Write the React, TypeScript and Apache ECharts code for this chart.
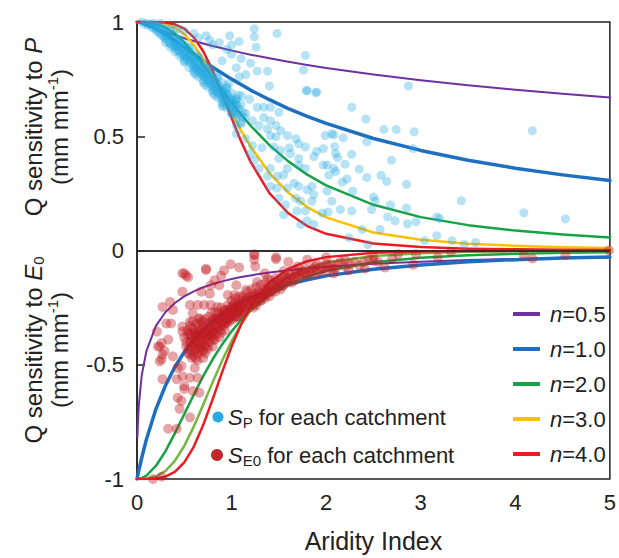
import React, { useEffect, useRef } from "react";
import * as echarts from "echarts";

const FONT = "'Liberation Sans', Arial, sans-serif";

const aridityGrid = [0, 0.005, 0.01, 0.02, 0.05, 0.1, 0.2, 0.3, 0.4, 0.5, 0.6, 0.7, 0.8, 0.9, 1.0, 1.1, 1.2, 1.4, 1.6, 1.8, 2.0, 2.5, 3.0, 3.5, 4.0, 4.5, 5.0];

const spN05 = [1, 1.0, 0.999, 0.998, 0.994, 0.986, 0.971, 0.956, 0.942, 0.929, 0.917, 0.906, 0.895, 0.885, 0.875, 0.866, 0.857, 0.841, 0.826, 0.812, 0.799, 0.77, 0.745, 0.723, 0.704, 0.686, 0.67];
const spN10 = [1, 1.0, 1.0, 1.0, 0.998, 0.992, 0.972, 0.947, 0.918, 0.889, 0.859, 0.83, 0.802, 0.776, 0.75, 0.726, 0.702, 0.66, 0.621, 0.587, 0.556, 0.49, 0.438, 0.395, 0.36, 0.331, 0.306];
const spN20 = [1, 1, 1, 1, 1.0, 0.999, 0.993, 0.976, 0.949, 0.911, 0.864, 0.811, 0.756, 0.701, 0.646, 0.595, 0.547, 0.461, 0.39, 0.332, 0.285, 0.2, 0.146, 0.111, 0.087, 0.07, 0.057];
const spN30 = [1, 1, 1, 1, 1, 1.0, 0.998, 0.992, 0.976, 0.947, 0.9, 0.838, 0.764, 0.684, 0.603, 0.526, 0.456, 0.339, 0.253, 0.19, 0.145, 0.079, 0.047, 0.03, 0.021, 0.014, 0.011];
const spN40 = [1, 1, 1, 1, 1, 1, 1.0, 0.998, 0.99, 0.971, 0.933, 0.872, 0.787, 0.686, 0.58, 0.478, 0.389, 0.251, 0.163, 0.107, 0.073, 0.031, 0.015, 0.008, 0.005, 0.003, 0.002];

const seN05 = [null, -0.815, -0.751, -0.673, -0.546, -0.439, -0.33, -0.27, -0.23, -0.201, -0.179, -0.161, -0.147, -0.135, -0.125, -0.116, -0.109, -0.096, -0.086, -0.078, -0.071, -0.058, -0.049, -0.042, -0.037, -0.033, -0.03];
const seN10 = [-1, -0.99, -0.98, -0.961, -0.907, -0.826, -0.694, -0.592, -0.51, -0.444, -0.391, -0.346, -0.309, -0.277, -0.25, -0.227, -0.207, -0.174, -0.148, -0.128, -0.111, -0.082, -0.063, -0.049, -0.04, -0.033, -0.028];
const seN20 = [-1, -1, -1, -0.999, -0.996, -0.985, -0.943, -0.879, -0.8, -0.716, -0.631, -0.55, -0.476, -0.411, -0.354, -0.304, -0.262, -0.196, -0.149, -0.115, -0.089, -0.051, -0.032, -0.021, -0.014, -0.01, -0.008];
const seN30 = [-1, -1, -1, -1, -1, -0.999, -0.989, -0.965, -0.921, -0.855, -0.771, -0.675, -0.576, -0.482, -0.397, -0.324, -0.262, -0.172, -0.114, -0.077, -0.053, -0.024, -0.012, -0.006, -0.004, -0.002, -0.002];
const seN40 = [-1, -1, -1, -1, -1, -1, -0.998, -0.99, -0.969, -0.927, -0.859, -0.764, -0.651, -0.532, -0.42, -0.324, -0.246, -0.139, -0.08, -0.047, -0.029, -0.01, -0.004, -0.002, -0.001, -0.001, 0];

const nLabels = ["0.5", "1.0", "2.0", "3.0", "4.0"];
const yTicks = [-1, -0.5, 0, 0.5, 1];

// S_P for each catchment [aridity index, sensitivity] — dense band
const spBand = [
  [0.1, 0.995], [0.12, 0.985], [0.14, 0.99], [0.16, 0.975], [0.18, 0.995], [0.19, 0.97], [0.2, 0.985], [0.21, 0.96],
  [0.22, 0.98], [0.23, 0.955], [0.24, 0.975], [0.25, 0.945], [0.26, 0.965], [0.27, 0.94], [0.28, 0.96], [0.29, 0.93],
  [0.3, 0.955], [0.31, 0.925], [0.32, 0.95], [0.33, 0.915], [0.34, 0.94], [0.35, 0.905], [0.36, 0.935], [0.37, 0.9],
  [0.38, 0.925], [0.39, 0.895], [0.4, 0.92], [0.41, 0.885], [0.42, 0.91], [0.43, 0.875], [0.44, 0.905], [0.45, 0.87],
  [0.46, 0.895], [0.47, 0.86], [0.48, 0.89], [0.49, 0.855], [0.5, 0.88], [0.51, 0.845], [0.52, 0.87], [0.53, 0.835],
  [0.54, 0.865], [0.55, 0.83], [0.56, 0.855], [0.57, 0.82], [0.58, 0.85], [0.59, 0.81], [0.6, 0.84], [0.61, 0.8],
  [0.62, 0.83], [0.63, 0.795], [0.64, 0.825], [0.65, 0.785], [0.66, 0.815], [0.67, 0.775], [0.68, 0.805], [0.69, 0.77],
  [0.7, 0.8], [0.71, 0.76], [0.72, 0.79], [0.73, 0.75], [0.74, 0.785], [0.75, 0.74], [0.76, 0.77], [0.77, 0.73],
  [0.78, 0.765], [0.79, 0.72], [0.8, 0.755], [0.81, 0.71], [0.82, 0.745], [0.83, 0.7], [0.84, 0.735], [0.85, 0.69],
  [0.86, 0.725], [0.87, 0.685], [0.88, 0.715], [0.89, 0.675], [0.9, 0.705], [0.91, 0.665], [0.92, 0.695], [0.93, 0.655],
  [0.94, 0.69], [0.95, 0.645], [0.96, 0.68], [0.97, 0.64], [0.98, 0.67], [0.99, 0.63], [1.0, 0.66], [1.01, 0.62],
  [1.02, 0.655], [1.03, 0.61], [1.04, 0.645], [1.05, 0.6], [1.06, 0.635], [1.07, 0.595], [1.08, 0.62], [1.1, 0.59],
  [1.12, 0.605], [1.14, 0.58], [1.15, 0.6], [0.2, 0.975], [0.3, 0.94], [0.4, 0.905], [0.45, 0.885], [0.5, 0.865],
  [0.55, 0.845], [0.6, 0.825], [0.65, 0.8], [0.7, 0.78], [0.75, 0.757], [0.8, 0.735], [0.85, 0.71], [0.9, 0.69],
  [0.95, 0.665], [1.0, 0.64], [1.05, 0.62], [0.42, 0.895], [0.52, 0.855], [0.62, 0.81], [0.72, 0.77], [0.82, 0.725],
  [0.92, 0.68], [1.02, 0.635], [0.58, 0.835], [0.68, 0.79], [0.78, 0.745], [0.88, 0.7], [0.98, 0.655], [0.6, 0.79],
  [0.7, 0.745], [0.8, 0.7], [0.9, 0.655], [0.5, 0.83], [0.65, 0.85], [0.75, 0.8], [0.85, 0.755], [0.95, 0.71],
  [1.05, 0.66], [0.55, 0.89], [0.45, 0.92], [1.1, 0.56], [1.0, 0.6], [0.9, 0.63], [0.97, 0.73], [1.07, 0.68],
  [0.3, 0.97], [0.4, 0.945], [0.5, 0.905], [0.6, 0.865], [0.7, 0.825], [0.8, 0.78], [0.9, 0.735], [1.0, 0.69],
  [1.1, 0.64], [0.35, 0.96], [0.45, 0.925], [0.55, 0.885], [0.65, 0.845], [0.75, 0.8], [0.85, 0.76], [0.95, 0.715],
  [1.05, 0.665], [0.3, 0.91], [0.4, 0.87], [0.5, 0.825], [0.6, 0.78], [0.7, 0.735], [0.8, 0.69], [0.9, 0.645],
  [1.0, 0.6], [1.1, 0.555], [0.35, 0.89], [0.45, 0.85], [0.55, 0.8], [0.65, 0.76], [0.75, 0.715], [0.85, 0.67],
  [0.95, 0.625], [1.05, 0.58], [0.62, 0.77], [0.72, 0.725], [0.82, 0.68], [0.92, 0.635],
];

// S_P for each catchment — scattered
const spScatter = [
  [0.05, 1.0], [0.08, 0.99], [0.15, 0.99], [0.25, 0.995], [0.35, 0.97], [0.42, 0.97], [0.5, 0.96], [0.6, 0.95],
  [0.73, 0.94], [0.77, 0.92], [0.87, 0.91], [0.98, 0.94], [1.08, 0.915], [1.24, 0.97], [1.24, 0.935], [1.26, 0.89],
  [1.48, 0.95], [0.95, 0.88], [1.0, 0.86], [0.9, 0.83], [1.05, 0.8], [1.1, 0.84], [1.15, 0.77], [1.08, 0.76],
  [1.27, 0.785], [1.38, 0.785], [1.2, 0.82], [1.0, 0.9], [0.65, 0.93], [0.8, 0.9], [1.4, 0.72], [1.76, 0.79],
  [1.79, 0.7], [1.89, 0.69], [1.78, 0.854], [1.11, 0.677], [1.19, 0.662], [1.27, 0.627], [1.34, 0.627], [1.41, 0.627],
  [1.5, 0.605], [1.34, 0.583], [1.41, 0.568], [1.47, 0.547], [1.38, 0.532], [1.29, 0.547], [1.22, 0.568], [1.52, 0.525],
  [1.41, 0.503], [1.59, 0.503], [1.68, 0.489], [1.71, 0.467], [1.61, 0.45], [1.78, 0.453], [1.62, 0.424], [1.45, 0.453],
  [1.52, 0.438], [1.32, 0.45], [1.5, 0.403], [1.71, 0.403], [1.87, 0.411], [1.9, 0.434], [1.71, 0.374], [1.78, 0.359],
  [1.41, 0.359], [1.59, 0.359], [1.55, 0.33], [1.66, 0.294], [1.71, 0.281], [1.8, 0.265], [1.85, 0.281], [1.87, 0.244],
  [1.59, 0.273], [1.48, 0.273], [1.68, 0.229], [1.73, 0.216], [1.85, 0.216], [1.69, 0.173], [1.78, 0.173], [1.8, 0.13],
  [1.73, 0.114], [1.87, 0.114], [1.96, 0.164], [2.06, 0.216], [2.01, 0.26], [2.03, 0.33], [2.08, 0.359], [1.97, 0.374],
  [2.1, 0.424], [1.97, 0.446], [2.06, 0.511], [1.99, 0.503], [1.47, 0.498], [1.05, 0.547], [1.05, 0.511], [1.15, 0.489],
  [1.22, 0.46], [1.2, 0.424], [1.24, 0.395], [1.29, 0.359], [1.38, 0.325], [1.41, 0.281], [1.48, 0.325], [1.5, 0.229],
  [1.57, 0.2], [1.55, 0.157], [2.87, 0.72], [2.27, 0.627], [2.42, 0.576], [2.61, 0.53], [2.74, 0.53], [2.93, 0.52],
  [4.18, 0.524], [2.08, 0.506], [2.18, 0.493], [2.43, 0.476], [2.09, 0.455], [2.92, 0.446], [2.27, 0.421], [2.12, 0.407],
  [2.69, 0.395], [2.2, 0.378], [2.01, 0.374], [2.35, 0.356], [2.1, 0.346], [2.58, 0.329], [2.43, 0.32], [2.22, 0.313],
  [2.64, 0.303], [2.17, 0.299], [2.85, 0.29], [2.28, 0.26], [2.5, 0.234], [2.52, 0.218], [3.43, 0.218], [2.85, 0.186],
  [2.68, 0.2], [2.48, 0.179], [2.27, 0.173], [2.15, 0.179], [2.02, 0.169], [2.65, 0.147], [4.09, 0.165], [4.53, 0.139],
  [3.17, 0.147], [3.2, 0.14], [2.73, 0.13], [2.86, 0.117], [2.95, 0.126], [2.57, 0.092], [2.38, 0.092], [2.24, 0.056],
  [3.17, 0.065], [3.04, 0.043], [3.33, 0.043], [3.58, 0.035], [2.44, 0.026], [3.46, 0.027], [1.9, 0.694], [1.8, 0.7],
];

// S_E0 for each catchment [aridity index, sensitivity] — dense band
const se0Band = [
  [0.55, -0.36], [0.56, -0.4], [0.57, -0.44], [0.58, -0.38], [0.59, -0.42], [0.6, -0.35], [0.6, -0.46], [0.61, -0.39],
  [0.62, -0.43], [0.63, -0.37], [0.64, -0.41], [0.65, -0.34], [0.65, -0.45], [0.66, -0.38], [0.67, -0.42], [0.68, -0.36],
  [0.69, -0.4], [0.7, -0.33], [0.7, -0.44], [0.71, -0.37], [0.72, -0.41], [0.73, -0.35], [0.74, -0.39], [0.75, -0.32],
  [0.75, -0.43], [0.76, -0.36], [0.77, -0.4], [0.78, -0.34], [0.79, -0.38], [0.8, -0.31], [0.8, -0.42], [0.81, -0.35],
  [0.82, -0.39], [0.83, -0.33], [0.84, -0.37], [0.85, -0.3], [0.86, -0.34], [0.87, -0.38], [0.88, -0.32], [0.89, -0.36],
  [0.9, -0.29], [0.91, -0.33], [0.92, -0.31], [0.93, -0.35], [0.94, -0.28], [0.95, -0.32], [0.96, -0.3], [0.97, -0.27],
  [0.98, -0.31], [0.99, -0.29], [1.0, -0.26], [1.01, -0.3], [1.02, -0.28], [1.03, -0.25], [1.04, -0.29], [1.05, -0.27],
  [1.06, -0.24], [1.07, -0.28], [1.08, -0.26], [1.1, -0.23], [1.1, -0.27], [1.12, -0.25], [1.13, -0.22], [1.15, -0.24],
  [1.16, -0.21], [1.18, -0.23], [1.2, -0.2], [1.2, -0.24], [1.22, -0.22], [1.24, -0.19], [1.25, -0.23], [1.27, -0.2],
  [1.29, -0.18], [1.3, -0.22], [1.32, -0.19], [1.34, -0.17], [1.35, -0.21], [1.37, -0.18], [1.39, -0.16], [1.4, -0.2],
  [1.42, -0.17], [1.44, -0.15], [1.46, -0.18], [1.48, -0.14], [1.5, -0.16], [1.53, -0.13], [1.55, -0.15], [1.58, -0.12],
  [1.6, -0.14], [1.63, -0.11], [1.66, -0.13], [1.69, -0.1], [1.72, -0.12], [1.75, -0.09], [1.8, -0.11], [1.85, -0.08],
  [1.9, -0.1], [1.95, -0.07], [2.0, -0.09], [2.05, -0.06], [2.1, -0.08], [2.15, -0.05], [2.2, -0.07], [2.3, -0.05],
  [2.35, -0.065], [2.45, -0.04], [2.55, -0.05], [2.7, -0.035], [0.62, -0.37], [0.68, -0.39], [0.74, -0.36], [0.78, -0.37],
  [0.84, -0.33], [0.9, -0.32], [0.95, -0.29], [1.0, -0.28], [1.05, -0.25], [1.1, -0.25], [0.66, -0.43], [0.72, -0.45],
  [0.58, -0.47], [0.64, -0.48], [0.7, -0.47], [0.5, -0.38], [0.52, -0.42], [0.53, -0.35], [0.54, -0.45], [0.56, -0.33],
  [0.57, -0.37], [0.59, -0.31], [0.61, -0.44], [0.63, -0.32], [0.64, -0.36], [0.66, -0.3], [0.67, -0.35], [0.69, -0.31],
  [0.71, -0.42], [0.72, -0.3], [0.73, -0.38], [0.76, -0.29], [0.77, -0.33], [0.79, -0.27], [0.81, -0.3], [0.82, -0.36],
  [0.83, -0.27], [0.86, -0.27], [0.87, -0.31], [0.89, -0.25], [0.91, -0.28], [0.93, -0.26], [0.94, -0.31], [0.96, -0.24],
  [0.98, -0.26], [1.0, -0.22], [1.02, -0.24], [1.04, -0.21], [1.06, -0.29], [1.08, -0.2], [1.09, -0.24], [1.12, -0.2],
  [1.14, -0.27], [1.17, -0.18], [1.19, -0.21], [1.21, -0.17], [1.23, -0.25], [1.26, -0.16], [1.28, -0.21], [1.31, -0.15],
  [1.33, -0.2], [1.36, -0.14], [1.38, -0.19], [1.41, -0.13], [1.43, -0.18], [1.47, -0.12], [1.5, -0.13], [1.52, -0.17],
  [1.56, -0.11], [1.6, -0.1], [1.64, -0.14], [1.68, -0.09], [1.74, -0.1], [1.78, -0.08], [1.83, -0.1], [1.88, -0.07],
  [1.93, -0.09], [2.0, -0.06], [2.07, -0.08], [2.12, -0.06], [2.25, -0.06], [2.4, -0.05], [2.5, -0.045],
  [0.52, -0.4], [0.54, -0.37], [0.55, -0.43], [0.57, -0.4], [0.58, -0.34], [0.6, -0.41], [0.61, -0.36], [0.62, -0.47],
  [0.63, -0.4], [0.65, -0.37], [0.66, -0.41], [0.67, -0.32], [0.68, -0.44], [0.69, -0.37], [0.71, -0.34], [0.72, -0.38],
  [0.74, -0.42], [0.75, -0.35], [0.77, -0.37], [0.78, -0.31], [0.8, -0.35], [0.81, -0.39], [0.83, -0.3], [0.85, -0.34],
  [0.86, -0.29], [0.88, -0.35], [0.9, -0.3], [0.92, -0.27], [0.93, -0.32], [0.95, -0.26], [0.97, -0.3], [0.99, -0.25],
  [1.01, -0.27], [1.03, -0.23], [1.05, -0.29], [1.07, -0.24], [1.09, -0.27], [1.11, -0.21], [1.13, -0.26], [1.15, -0.22],
  [1.18, -0.25], [1.2, -0.22], [1.23, -0.2], [1.26, -0.24], [1.28, -0.19], [1.31, -0.22], [1.34, -0.2], [1.37, -0.17],
  [1.4, -0.18], [1.43, -0.15], [1.46, -0.16], [1.5, -0.14], [1.54, -0.155], [1.57, -0.13], [1.62, -0.12], [1.67, -0.115],
  [1.71, -0.1], [1.77, -0.1], [1.82, -0.09], [1.87, -0.085], [1.97, -0.08], [2.03, -0.07],
];

// S_E0 for each catchment — scattered
const se0Scatter = [
  [0.52, -0.11], [0.48, -0.1], [0.73, -0.08], [0.73, -0.085], [0.89, -0.11], [0.99, -0.06], [1.08, -0.074], [1.24, -0.02],
  [1.24, -0.04], [1.25, -0.07], [1.47, -0.03], [1.38, -0.124], [1.27, -0.138], [1.05, -0.152], [0.87, -0.152], [0.78, -0.152],
  [0.68, -0.18], [0.77, -0.189], [0.48, -0.18], [0.96, -0.195], [1.03, -0.195], [1.15, -0.173], [0.35, -0.225], [0.27, -0.247],
  [0.38, -0.26], [0.56, -0.238], [0.64, -0.238], [0.71, -0.238], [0.78, -0.238], [0.85, -0.247], [0.59, -0.275], [0.66, -0.297],
  [0.56, -0.312], [0.48, -0.333], [0.31, -0.319], [0.36, -0.319], [0.21, -0.355], [0.48, -0.355], [0.33, -0.39], [0.24, -0.42],
  [0.29, -0.44], [0.26, -0.476], [0.38, -0.463], [0.47, -0.506], [0.56, -0.455], [0.61, -0.514], [0.64, -0.557], [0.48, -0.55],
  [0.56, -0.557], [0.5, -0.606], [0.43, -0.644], [0.59, -0.615], [0.66, -0.622], [0.42, -0.563], [0.5, -0.593], [0.47, -0.658],
  [0.45, -0.693], [0.56, -0.73], [0.33, -0.78], [0.42, -0.78], [0.17, -1.0], [0.26, -0.99], [0.43, -0.514], [0.27, -0.563],
  [0.26, -0.405], [0.22, -0.42], [0.27, -0.455], [0.24, -0.485], [0.5, -0.1], [0.54, -0.117], [0.82, -0.13], [0.92, -0.087],
  [1.24, -0.016], [1.47, -0.038], [4.09, -0.02], [4.18, -0.035], [4.53, -0.02], [4.99, 0.0], [2.92, -0.062], [3.18, -0.03],
  [3.32, -0.005], [2.62, -0.074], [2.41, -0.08], [2.24, -0.087], [2.08, -0.1], [2.76, -0.016], [2.5, -0.03], [2.95, -0.016],
  [1.6, -0.05], [1.8, -0.04], [1.9, -0.06], [2.0, -0.03], [2.2, -0.04], [1.7, -0.07], [1.55, -0.09], [1.35, -0.1],
];

const CURVE_COLORS = ["#7030A0", "#1F6FC0", "#17A345", "#FFC000", "#ED1C24"];
const LOWER_N3_COLOR = "#74B640";
const CURVE_WIDTHS = [2, 3.5, 2.5, 2.5, 2.5];

function pairs(values: (number | null)[]) {
  return aridityGrid.map((x, i) => [x, values[i]]);
}

export default function App() {
  const ref = useRef<HTMLDivElement>(null);

  useEffect(() => {
    document.body.style.margin = "0";
    const chart = echarts.init(ref.current!, undefined, { renderer: "svg" });

    const upper = [spN05, spN10, spN20, spN30, spN40];
    const lower = [seN05, seN10, seN20, seN30, seN40];

    const lineSeries = (vals: (number | null)[], color: string, width: number, name: string) => ({
      type: "line",
      name,
      data: pairs(vals),
      showSymbol: false,
      smooth: false,
      connectNulls: false,
      lineStyle: { color, width, join: "round", cap: "round" },
      z: 3,
      silent: true,
    });

    const legendRows = [314, 349, 384, 419, 454];
    const titleRich = {
      i: { fontStyle: "italic", fontSize: 24, fontFamily: FONT, fill: "#222" },
      sub: { fontSize: 15, fontFamily: FONT, fill: "#222", padding: [11, 0, 0, 0] },
      sup: { fontSize: 15, fontFamily: FONT, fill: "#222", padding: [0, 0, 13, 0] },
    };

    chart.setOption({
      animation: false,
      grid: {
        left: 137,
        right: 5,
        top: 22,
        bottom: 74,
        show: true,
        borderColor: "#222",
        borderWidth: 1.5,
        backgroundColor: "transparent",
      },
      xAxis: {
        type: "value",
        min: 0,
        max: 5,
        interval: 1,
        axisLine: { show: true, lineStyle: { color: "#222", width: 1.5 } },
        axisTick: { show: false },
        splitLine: { show: false },
        axisLabel: { fontSize: 22, color: "#222", fontFamily: FONT, margin: 12 },
        name: "Aridity Index",
        nameLocation: "middle",
        nameGap: 49,
        nameTextStyle: { fontSize: 25, color: "#222", fontFamily: FONT },
      },
      yAxis: {
        type: "value",
        min: yTicks[0],
        max: yTicks[yTicks.length - 1],
        interval: 0.5,
        axisLine: { show: true, lineStyle: { color: "#222", width: 1.5 } },
        axisTick: { show: true, inside: true, length: 8, lineStyle: { color: "#222", width: 1.5 } },
        splitLine: { show: false },
        axisLabel: { fontSize: 22, color: "#222", fontFamily: FONT, margin: 13 },
      },
      series: [
        ...upper.map((v, i) => lineSeries(v, CURVE_COLORS[i], CURVE_WIDTHS[i], "up" + i)),
        ...lower.map((v, i) => lineSeries(v, i === 3 ? LOWER_N3_COLOR : CURVE_COLORS[i], CURVE_WIDTHS[i], "lo" + i)),
        {
          type: "scatter",
          name: "SP",
          data: [...spBand, ...spScatter],
          symbolSize: 9,
          itemStyle: { color: "rgba(35,168,226,0.42)" },
          z: 4,
          silent: true,
          markLine: {
            silent: true,
            symbol: ["none", "none"],
            label: { show: false },
            lineStyle: { color: "#222", width: 1.5, type: "solid" },
            data: [{ yAxis: 0 }],
          },
        },
        {
          type: "scatter",
          name: "SE0",
          data: [...se0Band, ...se0Scatter],
          symbolSize: 10,
          itemStyle: { color: "rgba(192,28,36,0.5)" },
          z: 4,
          silent: true,
        },
      ],
      graphic: [
        {
          type: "text",
          x: 33,
          y: 127,
          rotation: Math.PI / 2,
          style: {
            text: "Q sensitivity to {i|P}",
            align: "center",
            verticalAlign: "middle",
            fill: "#222",
            font: `24px ${FONT}`,
            rich: titleRich,
          },
        },
        {
          type: "text",
          x: 59,
          y: 127,
          rotation: Math.PI / 2,
          style: {
            text: "(mm mm{sup|-1})",
            align: "center",
            verticalAlign: "middle",
            fill: "#222",
            font: `24px ${FONT}`,
            rich: titleRich,
          },
        },
        {
          type: "text",
          x: 33,
          y: 350,
          rotation: Math.PI / 2,
          style: {
            text: "Q sensitivity to {i|E}{sub|0}",
            align: "center",
            verticalAlign: "middle",
            fill: "#222",
            font: `24px ${FONT}`,
            rich: titleRich,
          },
        },
        {
          type: "text",
          x: 59,
          y: 350,
          rotation: Math.PI / 2,
          style: {
            text: "(mm mm{sup|-1})",
            align: "center",
            verticalAlign: "middle",
            fill: "#222",
            font: `24px ${FONT}`,
            rich: titleRich,
          },
        },
        ...nLabels.flatMap((lab, i) => [
          {
            type: "line",
            shape: { x1: 513, y1: legendRows[i], x2: 540, y2: legendRows[i] },
            style: { stroke: CURVE_COLORS[i], lineWidth: 4 },
          },
          {
            type: "text",
            x: 550,
            y: legendRows[i],
            style: {
              text: "{i|n}=" + lab,
              align: "left",
              verticalAlign: "middle",
              fill: "#222",
              font: `22px ${FONT}`,
              rich: { i: { fontStyle: "italic", fontSize: 22, fontFamily: FONT, fill: "#222" } },
            },
          },
        ]),
        {
          type: "circle",
          shape: { cx: 218, cy: 417, r: 5.5 },
          style: { fill: "#29ABE2" },
        },
        {
          type: "circle",
          shape: { cx: 217, cy: 455, r: 6 },
          style: { fill: "#C1272D" },
        },
        {
          type: "text",
          x: 228,
          y: 417,
          style: {
            text: "{i|S}{sub|P} for each catchment",
            align: "left",
            verticalAlign: "middle",
            fill: "#222",
            font: `22px ${FONT}`,
            rich: {
              i: { fontStyle: "italic", fontSize: 22, fontFamily: FONT, fill: "#222" },
              sub: { fontSize: 15, fontFamily: FONT, fill: "#222", padding: [10, 0, 0, 0] },
            },
          },
        },
        {
          type: "text",
          x: 228,
          y: 455,
          style: {
            text: "{i|S}{sub|E0} for each catchment",
            align: "left",
            verticalAlign: "middle",
            fill: "#222",
            font: `22px ${FONT}`,
            rich: {
              i: { fontStyle: "italic", fontSize: 22, fontFamily: FONT, fill: "#222" },
              sub: { fontSize: 15, fontFamily: FONT, fill: "#222", padding: [10, 0, 0, 0] },
            },
          },
        },
      ],
    });

    return () => chart.dispose();
  }, []);

  return <div ref={ref} style={{ position: "absolute", left: 0, top: 0, width: 619, height: 558 }} />;
}
